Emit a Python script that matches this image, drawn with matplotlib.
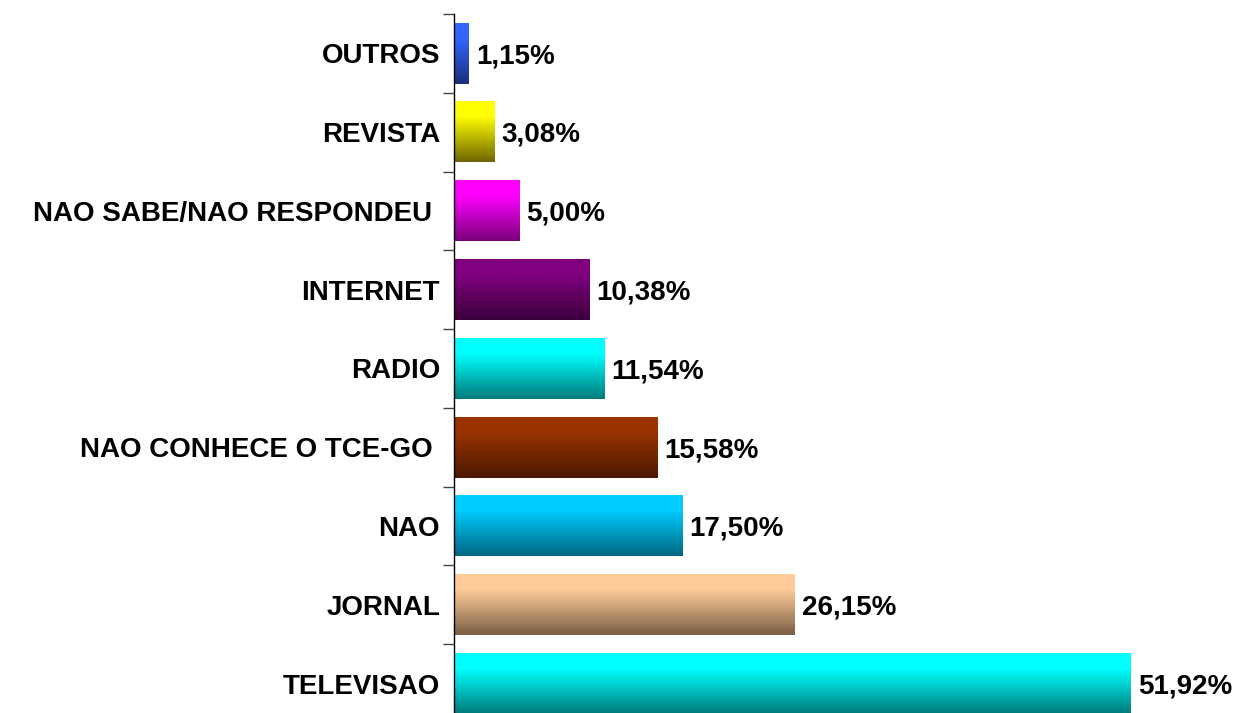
import numpy as np
import matplotlib
matplotlib.use('Agg')
import matplotlib.pyplot as plt
from matplotlib.colors import LinearSegmentedColormap

# bottom to top, as drawn
categories = ['TELEVISAO', 'JORNAL', 'NAO', 'NAO CONHECE O TCE-GO ', 'RADIO',
              'INTERNET', 'NAO SABE/NAO RESPONDEU ', 'REVISTA', 'OUTROS']
values = [51.92, 26.15, 17.50, 15.58, 11.54, 10.38, 5.00, 3.08, 1.15]
value_labels = ['51,92%', '26,15%', '17,50%', '15,58%', '11,54%',
                '10,38%', '5,00%', '3,08%', '1,15%']

# gradient colours (top, bottom) for each bar
top_colors = ['#00FFFF', '#FFCC99', '#00CCFF', '#993300', '#00FFFF',
              '#800080', '#FF00FF', '#FFFF00', '#3366FF']
bottom_colors = ['#007A7A', '#7A5E44', '#006680', '#4A1800', '#007A7A',
                 '#3C003C', '#7A007A', '#6E6600', '#1A2F7A']

plt.rcParams['font.family'] = ['Liberation Sans', 'DejaVu Sans']

fig = plt.figure(figsize=(12.43, 7.13), dpi=100)
ax = fig.add_axes([454 / 1243, -10 / 713, 790 / 1243, 709 / 713])

bar_h = 0.77
grad = np.linspace(0, 1, 256).reshape(-1, 1)
positions = np.arange(len(categories))
for y, v, c1, c2 in zip(positions, values, top_colors, bottom_colors):
    cmap = LinearSegmentedColormap.from_list('g', [(0, c1), (0.25, c1), (1, c2)])
    ax.imshow(grad, cmap=cmap, aspect='auto', interpolation='bilinear',
              extent=[0, v, y - bar_h / 2, y + bar_h / 2])

# value labels just right of each bar
for y, v, lab in zip(positions, values, value_labels):
    ax.annotate(lab, (v, y), xytext=(5, -2), textcoords='offset points',
                ha='left', va='center', fontsize=20, fontweight='bold')

ax.set_xlim(0, 60.6)
ax.set_ylim(-0.5, len(categories) - 0.5)

ax.set_yticks(positions)
ax.set_yticklabels(categories, fontsize=20, fontweight='bold')
ax.tick_params(axis='y', which='major', length=0, pad=10)
ax.set_yticks(np.arange(-0.5, len(categories)), minor=True)
ax.tick_params(axis='y', which='minor', length=8, width=1, color='#444444')
ax.set_xticks([])

for side in ['top', 'right', 'bottom']:
    ax.spines[side].set_visible(False)
ax.spines['left'].set_linewidth(1)

fig.savefig('out.png', dpi=100)
